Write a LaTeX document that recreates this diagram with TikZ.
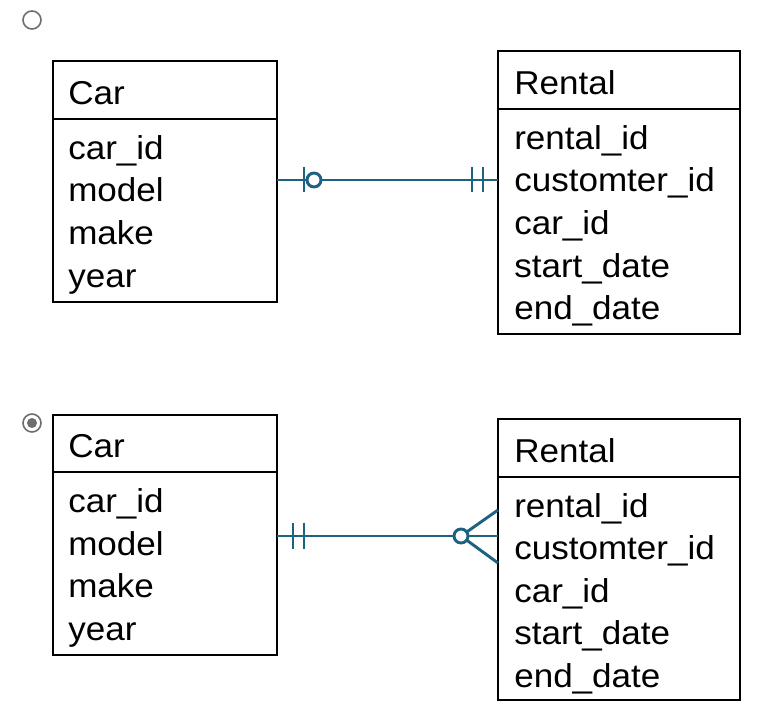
\documentclass[tikz,border=0pt]{standalone}
\usepackage{fontspec}
\setmainfont[FakeStretch=1.06]{Liberation Sans}
\definecolor{erline}{HTML}{1D6283}
\definecolor{radio}{HTML}{6E6E6E}
\begin{document}
\begin{tikzpicture}[x=0.75pt,y=-0.75pt,
  box/.style={draw=black,line width=1.4pt,inner sep=0pt,outer sep=0pt},
  txt/.style={anchor=base west,inner sep=0pt,font=\fontsize{24.8pt}{29pt}\selectfont},
  rel/.style={draw=erline,line width=2.2pt},
  ringmark/.style={draw=erline,line width=2.2pt,fill=white},
  radiobtn/.style={draw=radio,line width=1.2pt}]
\useasboundingbox (0,0) rectangle (781,727);

% radio buttons
\node[radiobtn,circle,minimum size=13.5pt,inner sep=0pt] (r1) at (32,20) {};
\node[radiobtn,circle,minimum size=13.5pt,inner sep=0pt] (r2) at (32,423) {};
\node[circle,fill=radio,minimum size=7.5pt,inner sep=0pt] (r2dot) at (32,423) {};

% ---- top pair ----
\node[box,minimum width=168pt,minimum height=43.5pt,anchor=north west] (carAh) at (53,61) {};
\node[box,minimum width=168pt,minimum height=137.25pt,anchor=north west] (carAb) at (53,119) {};
\node[txt] (carAt) at (68,104.5) {Car};
\node[txt] (carA1) at (68,159.5) {car\_id};
\node[txt] (carA2) at (68,202) {model};
\node[txt] (carA3) at (68,244.5) {make};
\node[txt] (carA4) at (68,287) {year};

\node[box,minimum width=181.5pt,minimum height=43.5pt,anchor=north west] (renAh) at (498,51) {};
\node[box,minimum width=181.5pt,minimum height=168.75pt,anchor=north west] (renAb) at (498,109) {};
\node[txt] (renAt) at (514,94.5) {Rental};
\node[txt] (renA1) at (514,149.5) {rental\_id};
\node[txt] (renA2) at (514,192) {customter\_id};
\node[txt] (renA3) at (514,234.5) {car\_id};
\node[txt] (renA4) at (514,277) {start\_date};
\node[txt] (renA5) at (514,319.5) {end\_date};

\coordinate (lA) at (0,180);
\draw[rel] (carAb.east |- lA) -- (renAb.west |- lA);
\draw[rel] (304,167.5) -- (304,192.5);
\node[ringmark,circle,minimum size=10.5pt,inner sep=0pt] (oA) at (314,180) {};
\draw[rel] (472,167.5) -- (472,192.5);
\draw[rel] (483,167.5) -- (483,192.5);

% ---- bottom pair ----
\node[box,minimum width=168pt,minimum height=42.75pt,anchor=north west] (carBh) at (53,415) {};
\node[box,minimum width=168pt,minimum height=137.25pt,anchor=north west] (carBb) at (53,472) {};
\node[txt] (carBt) at (68,457.5) {Car};
\node[txt] (carB1) at (68,512.5) {car\_id};
\node[txt] (carB2) at (68,555) {model};
\node[txt] (carB3) at (68,597.5) {make};
\node[txt] (carB4) at (68,640) {year};

\node[box,minimum width=181.5pt,minimum height=43.5pt,anchor=north west] (renBh) at (498,419) {};
\node[box,minimum width=181.5pt,minimum height=167.25pt,anchor=north west] (renBb) at (498,477) {};
\node[txt] (renBt) at (514,462.5) {Rental};
\node[txt] (renB1) at (514,517) {rental\_id};
\node[txt] (renB2) at (514,559.5) {customter\_id};
\node[txt] (renB3) at (514,602) {car\_id};
\node[txt] (renB4) at (514,644.5) {start\_date};
\node[txt] (renB5) at (514,687) {end\_date};

\coordinate (lB) at (0,536);
\coordinate (cfB) at (461,536);
\coordinate (cfT) at (498,510);
\coordinate (cfD) at (498,563);
\draw[rel] (carBb.east |- lB) -- (renBb.west |- lB);
\draw[rel] (293,522.5) -- (293,548.5);
\draw[rel] (304,522.5) -- (304,548.5);
\draw[rel] (cfB) -- (cfT);
\draw[rel] (cfB) -- (cfD);
\node[ringmark,circle,minimum size=10.5pt,inner sep=0pt] (oB) at (cfB) {};
\end{tikzpicture}
\end{document}
